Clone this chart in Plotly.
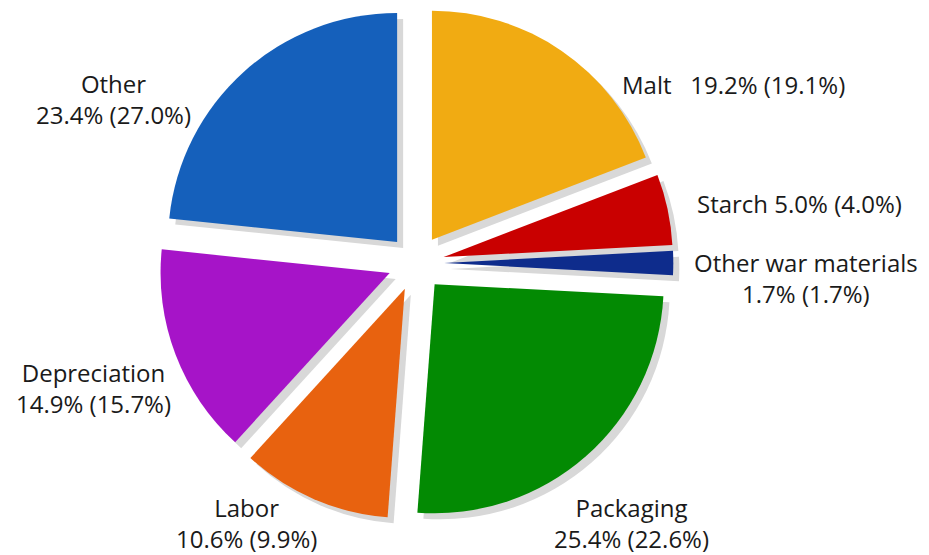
import plotly.graph_objects as go

# Data
categories = ["Malt", "Starch", "Other war materials", "Packaging", "Labor", "Depreciation", "Other"]
values = [19.2, 5.0, 1.7, 25.4, 10.6, 14.9, 23.4]
prior_values = [19.1, 4.0, 1.7, 22.6, 9.9, 15.7, 27.0]
colors = ["#F1AB12", "#C90000", "#0E2C8C", "#038A03", "#E8620F", "#A614C8", "#1560BB"]

W, H = 929, 555
PULL = 0.123

def px_x(x):
    return x / W

def px_y(y):
    return 1 - y / H

# pie box (pixels)
cx, cy, half = 416, 263, 257.3
dom_x = [px_x(cx - half), px_x(cx + half)]
dom_y = [px_y(cy + half), px_y(cy - half)]
sh = 6
dom_x_sh = [px_x(cx - half + sh), px_x(cx + half + sh)]
dom_y_sh = [px_y(cy + half + sh), px_y(cy - half + sh)]

fig = go.Figure()
# shadow
fig.add_trace(go.Pie(
    labels=categories, values=values, sort=False, direction="clockwise", rotation=0,
    pull=[PULL] * len(values), domain=dict(x=dom_x_sh, y=dom_y_sh),
    marker=dict(colors=["#D8D8D8"] * len(values), line=dict(width=0)),
    textinfo="none", hoverinfo="skip", showlegend=False,
))
fig.add_trace(go.Pie(
    labels=categories, values=values, sort=False, direction="clockwise", rotation=0,
    pull=[PULL] * len(values), domain=dict(x=dom_x, y=dom_y),
    marker=dict(colors=colors, line=dict(width=0)),
    textinfo="none", showlegend=False,
))

def fmt(v):
    return f"{v:.1f}%"

# label placements: (x center, y center, mode)
placements = {
    "Malt": (733, 84, "inline2"),
    "Starch": (799, 203, "inline1"),
    "Other war materials": (806, 278, "two"),
    "Packaging": (631, 523, "two"),
    "Labor": (246, 523, "two"),
    "Depreciation": (93, 388, "two"),
    "Other": (113, 99, "two"),
}
FONT = dict(family="Open Sans", size=24, color="#1a1a1a")

for name, v, p in zip(categories, values, prior_values):
    pct = f"{fmt(v)} ({fmt(p)})"
    x, y, mode = placements[name]
    if mode == "inline2":
        txt = f"{name}\u00a0\u00a0 {pct}"
    elif mode == "inline1":
        txt = f"{name} {pct}"
    else:
        txt = f"{name}<br>{pct}"
    fig.add_annotation(
        x=px_x(x), y=px_y(y), xref="paper", yref="paper",
        text=txt, showarrow=False, xanchor="center", yanchor="middle",
        align="center", font=FONT,
    )

fig.update_layout(
    width=W, height=H, margin=dict(l=0, r=0, t=0, b=0),
    paper_bgcolor="white", plot_bgcolor="white", showlegend=False,
)

fig.write_html("out.html")
